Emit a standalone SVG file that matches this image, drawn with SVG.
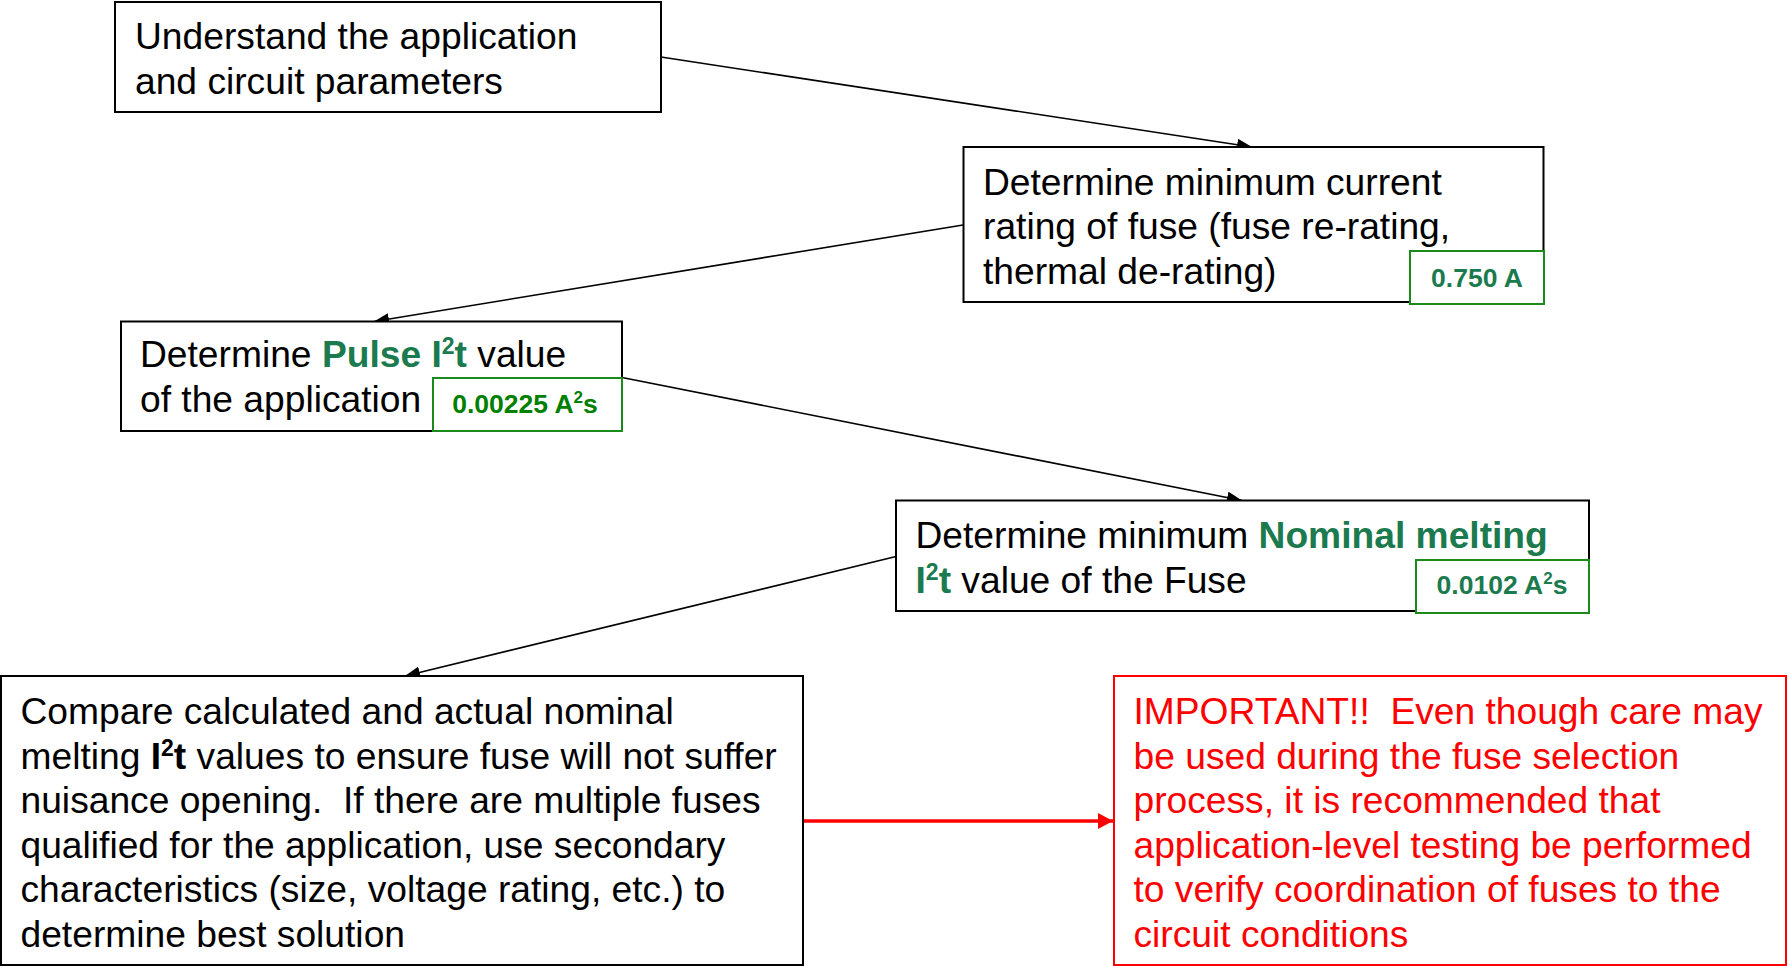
<svg xmlns="http://www.w3.org/2000/svg" width="1788" height="966" viewBox="0 0 1788 966">
<defs>
<marker id="ah" markerUnits="userSpaceOnUse" markerWidth="16" markerHeight="12" refX="15" refY="6" orient="auto"><path d="M0,0 L15,6 L0,12 z" fill="#000"/></marker>
<marker id="ahr" markerUnits="userSpaceOnUse" markerWidth="16" markerHeight="16" refX="15" refY="8" orient="auto"><path d="M0,0 L15,8 L0,16 z" fill="#ff0000"/></marker>
<style>
.box{fill:#fff;stroke:#000;stroke-width:2}
.rbox{fill:#fff;stroke:#ff0000;stroke-width:2}
.badge{fill:#fff;stroke:#1a8a1a;stroke-width:2}
.t{font-family:"Liberation Sans",Arial,sans-serif;font-size:37.2px;fill:#000;white-space:pre}
.r{fill:#ff0000}
.g{fill:#1b7a4e;font-weight:bold}
.b{font-weight:bold}
.bt{font-family:"Liberation Sans",Arial,sans-serif;font-size:26.5px;font-weight:bold;fill:#1b7a4e;text-anchor:middle}
.bt2{fill:#008000}
.sup{font-size:23px}
.c{stroke:#000;stroke-width:1.6;fill:none;marker-end:url(#ah)}
.cr{stroke:#ff0000;stroke-width:3.5;fill:none;marker-end:url(#ahr)}
</style>
</defs>
<g id="connectors">
<line class="c" x1="661" y1="57" x2="1252" y2="147"/>
<line class="c" x1="963" y1="225" x2="374" y2="321.5"/>
<line class="c" x1="622" y1="377.5" x2="1242" y2="500.5"/>
<line class="c" x1="896" y1="556.5" x2="405" y2="676"/>
<line class="cr" x1="803" y1="821" x2="1113" y2="821"/>
</g>
<g id="n1">
<rect class="box" x="115" y="2" width="546" height="110"/>
<text class="t" x="135" y="49">Understand the application</text>
<text class="t" x="135" y="93.5">and circuit parameters</text>
</g>
<g id="n2">
<rect class="box" x="963.5" y="147" width="580" height="155"/>
<text class="t" x="983" y="194.5">Determine minimum current</text>
<text class="t" x="983" y="239">rating of fuse (fuse re-rating,</text>
<text class="t" x="983" y="283.5">thermal de-rating)</text>
<rect class="badge" x="1410" y="251" width="134" height="53"/>
<text class="bt" x="1477" y="287">0.750 A</text>
</g>
<g id="n3">
<rect class="box" x="121" y="321.5" width="501" height="109.5"/>
<text class="t" x="140" y="367">Determine <tspan class="g">Pulse I<tspan class="sup" dy="-13">2</tspan><tspan dy="13">t</tspan></tspan> value</text>
<text class="t" x="140" y="412">of the application</text>
<rect class="badge" x="433" y="378" width="189" height="53"/>
<text class="bt bt2" x="525" y="413">0.00225 A<tspan font-size="17" dy="-10">2</tspan><tspan dy="10">s</tspan></text>
</g>
<g id="n4">
<rect class="box" x="896" y="500.5" width="693" height="110.5"/>
<text class="t" x="915.5" y="548">Determine minimum <tspan class="g">Nominal melting</tspan></text>
<text class="t" x="915.5" y="592.5"><tspan class="g">I<tspan class="sup" dy="-13">2</tspan><tspan dy="13">t</tspan></tspan> value of the Fuse</text>
<rect class="badge" x="1416" y="560" width="173" height="53"/>
<text class="bt" x="1502" y="594">0.0102 A<tspan font-size="17" dy="-10">2</tspan><tspan dy="10">s</tspan></text>
</g>
<g id="n5">
<rect class="box" x="1" y="676" width="802" height="289"/>
<text class="t" x="20.5" y="724">Compare calculated and actual nominal</text>
<text class="t" x="20.5" y="768.6">melting <tspan class="b">I<tspan class="sup" dy="-13">2</tspan><tspan dy="13">t</tspan></tspan> values to ensure fuse will not suffer</text>
<text class="t" x="20.5" y="813.2">nuisance opening.  If there are multiple fuses</text>
<text class="t" x="20.5" y="857.8">qualified for the application, use secondary</text>
<text class="t" x="20.5" y="902.4">characteristics (size, voltage rating, etc.) to</text>
<text class="t" x="20.5" y="947">determine best solution</text>
</g>
<g id="n6">
<rect class="rbox" x="1114" y="676" width="672" height="289"/>
<text class="t r" x="1133.5" y="724">IMPORTANT!!  Even though care may</text>
<text class="t r" x="1133.5" y="768.6">be used during the fuse selection</text>
<text class="t r" x="1133.5" y="813.2">process, it is recommended that</text>
<text class="t r" x="1133.5" y="857.8">application-level testing be performed</text>
<text class="t r" x="1133.5" y="902.4">to verify coordination of fuses to the</text>
<text class="t r" x="1133.5" y="947">circuit conditions</text>
</g>
</svg>
